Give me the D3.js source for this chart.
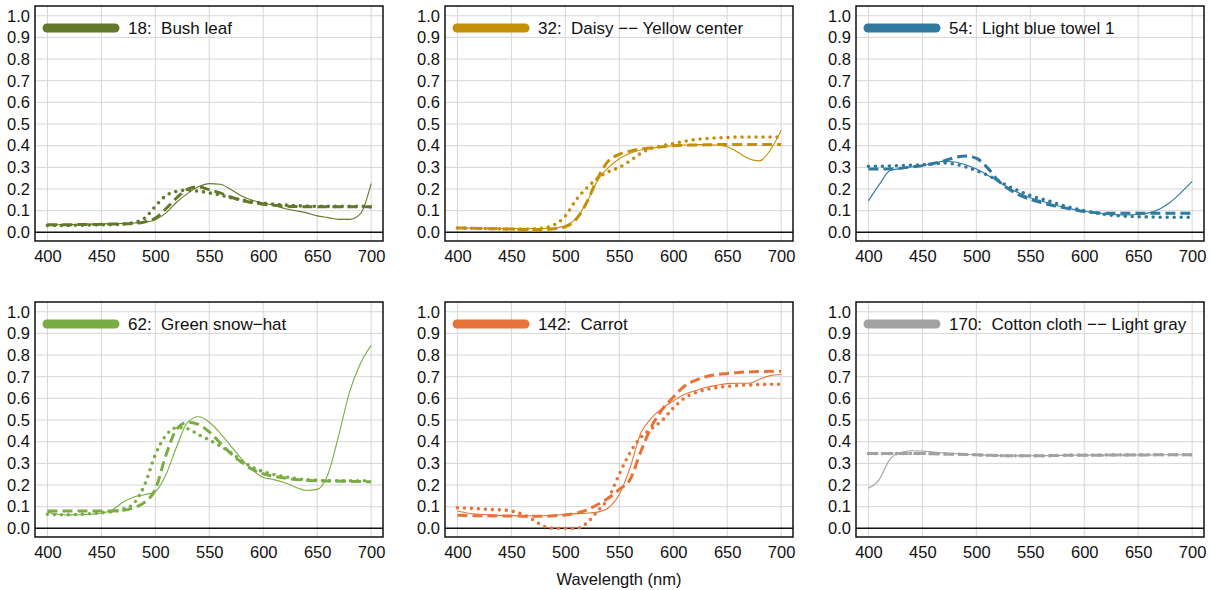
<!DOCTYPE html>
<html><head><meta charset="utf-8">
<script src="https://cdn.jsdelivr.net/npm/d3@7"></script>
<style>
body{margin:0;background:#fff;}
svg text{font-family:"Liberation Sans",Arial,sans-serif;fill:#111;}
</style></head>
<body>
<svg id="chart" width="1211" height="590"></svg>
<script>
const wavelengths = d3.range(400, 701, 10);
const xTicks = [400,450,500,550,600,650,700];
const yTicks = [0,0.1,0.2,0.3,0.4,0.5,0.6,0.7,0.8,0.9,1.0];
const panelTitles = ["18:  Bush leaf","32:  Daisy \u2212\u2212 Yellow center","54:  Light blue towel 1","62:  Green snow\u2212hat","142:  Carrot","170:  Cotton cloth \u2212\u2212 Light gray"];
const panelColors = ["#62792b","#c49008","#2f7a9e","#79ad44","#e8733a","#a2a2a2"];

const bushSolid  = [.035,.035,.036,.037,.038,.039,.040,.041,.043,.047,.058,.090,.140,.180,.210,.225,.222,.198,.168,.148,.135,.125,.110,.100,.090,.076,.068,.060,.060,.085,.225];
const bushDashed = [.035,.035,.035,.036,.036,.037,.038,.039,.041,.048,.065,.110,.160,.200,.210,.197,.182,.163,.147,.137,.130,.125,.121,.119,.118,.118,.118,.118,.118,.118,.118];
const bushDotted = [.032,.032,.032,.033,.034,.035,.036,.038,.045,.065,.120,.170,.190,.195,.190,.182,.172,.160,.150,.141,.135,.130,.126,.123,.121,.120,.120,.120,.120,.120,.117];

const daisySolid  = [.020,.020,.019,.019,.018,.018,.018,.018,.018,.020,.030,.065,.140,.240,.300,.340,.365,.380,.390,.395,.400,.403,.405,.405,.403,.395,.370,.340,.330,.380,.470];
const daisyDashed = [.020,.019,.018,.017,.016,.015,.013,.010,.012,.016,.025,.060,.140,.250,.330,.360,.375,.385,.390,.395,.400,.402,.403,.404,.405,.405,.405,.405,.405,.405,.405];
const daisyDotted = [.020,.019,.018,.017,.016,.015,.015,.016,.020,.035,.075,.150,.205,.250,.280,.300,.330,.365,.388,.400,.410,.420,.428,.433,.436,.438,.440,.440,.440,.440,.440];

const towelSolid  = [.145,.220,.285,.295,.302,.308,.318,.328,.325,.312,.292,.265,.235,.205,.180,.160,.145,.130,.117,.106,.097,.090,.085,.081,.080,.082,.090,.108,.140,.185,.235];
const towelDashed = [.292,.292,.293,.296,.302,.308,.318,.330,.345,.352,.342,.300,.240,.200,.172,.152,.137,.125,.115,.105,.096,.091,.088,.088,.088,.088,.088,.088,.088,.088,.088];
const towelDotted = [.305,.305,.306,.308,.310,.312,.315,.320,.315,.302,.285,.265,.240,.212,.190,.170,.155,.140,.125,.111,.100,.090,.082,.077,.074,.072,.071,.070,.070,.070,.070];

const hatSolid  = [.075,.065,.062,.063,.065,.070,.085,.120,.145,.155,.170,.250,.380,.490,.515,.490,.440,.380,.320,.270,.235,.225,.210,.190,.175,.180,.250,.430,.630,.760,.845];
const hatDashed = [.080,.080,.080,.080,.080,.080,.080,.083,.095,.120,.180,.340,.460,.490,.480,.445,.395,.345,.305,.272,.252,.240,.232,.226,.222,.220,.219,.218,.217,.216,.215];
const hatDotted = [.065,.063,.063,.065,.068,.072,.077,.088,.115,.200,.340,.430,.465,.460,.432,.408,.380,.350,.312,.282,.262,.248,.238,.230,.225,.222,.220,.220,.220,.220,.220];

const carrotSolid  = [.080,.070,.065,.062,.060,.059,.058,.058,.058,.060,.065,.068,.070,.075,.095,.156,.280,.440,.510,.555,.588,.618,.635,.650,.660,.668,.670,.670,.688,.705,.710];
const carrotDashed = [.060,.059,.058,.058,.057,.057,.056,.056,.056,.058,.062,.070,.085,.110,.140,.180,.225,.355,.470,.550,.605,.655,.682,.700,.710,.715,.720,.722,.724,.725,.725];
const carrotDotted = [.095,.093,.090,.087,.085,.080,.065,.040,.010,.000,.000,.000,.025,.080,.140,.250,.350,.420,.460,.500,.555,.600,.625,.640,.650,.655,.660,.662,.664,.665,.665];

const clothSolid  = [.185,.225,.320,.350,.358,.357,.352,.348,.345,.342,.340,.338,.336,.335,.335,.335,.335,.336,.337,.338,.338,.338,.338,.338,.338,.339,.339,.339,.340,.340,.340];
const clothDashed = [.345,.345,.345,.345,.345,.345,.344,.343,.342,.341,.340,.338,.336,.335,.335,.335,.335,.336,.337,.338,.338,.338,.338,.339,.339,.339,.339,.340,.340,.340,.340];
const clothDotted = [.345,.345,.345,.345,.346,.346,.345,.344,.342,.341,.339,.337,.336,.335,.335,.335,.335,.336,.337,.338,.338,.338,.339,.339,.339,.339,.340,.340,.340,.340,.340];

const panelSeries = [
  [bushSolid,bushDashed,bushDotted],
  [daisySolid,daisyDashed,daisyDotted],
  [towelSolid,towelDashed,towelDotted],
  [hatSolid,hatDashed,hatDotted],
  [carrotSolid,carrotDashed,carrotDotted],
  [clothSolid,clothDashed,clothDotted]
];

const svg = d3.select("#chart");
const colLeft = [35,445,856];
const rowTop = [6,302];
const W = 348, H = 235;
const styles = [
  {w:1.1, dash:null, cap:"butt"},
  {w:3, dash:"10,5", cap:"butt"},
  {w:3.6, dash:"0,7", cap:"round"}
];

panelSeries.forEach((series,i)=>{
  const L = colLeft[i%3], T = rowTop[Math.floor(i/3)];
  const g = svg.append("g").attr("transform",`translate(${L},${T})`);
  const x = d3.scaleLinear().domain([388.5,711]).range([0,W]);
  const y = d3.scaleLinear().domain([-0.04,1.045]).range([H,0]);
  g.selectAll(".vg").data(xTicks).join("line")
    .attr("x1",d=>x(d)).attr("x2",d=>x(d)).attr("y1",0).attr("y2",H)
    .attr("stroke","#d6d6d6").attr("stroke-width",1);
  g.selectAll(".hg").data(yTicks).join("line")
    .attr("x1",0).attr("x2",W).attr("y1",d=>y(d)).attr("y2",d=>y(d))
    .attr("stroke","#d6d6d6").attr("stroke-width",1);
  g.append("line").attr("x1",0).attr("x2",W).attr("y1",y(0)).attr("y2",y(0))
    .attr("stroke","#111").attr("stroke-width",1.5);
  const xa = g.append("g").attr("transform",`translate(0,${H})`)
    .call(d3.axisBottom(x).tickValues(xTicks).tickSize(0).tickPadding(9).tickFormat(d3.format("d")));
  xa.select(".domain").remove();
  xa.selectAll("text").attr("font-size",16.5).style("fill","#111");
  const ya = g.append("g")
    .call(d3.axisLeft(y).tickValues(yTicks).tickSize(0).tickPadding(5).tickFormat(d3.format(".1f")));
  ya.select(".domain").remove();
  ya.selectAll("text").attr("font-size",16.5).style("fill","#111");
  const clip = "clip"+i;
  g.append("clipPath").attr("id",clip).append("rect").attr("width",W).attr("height",H);
  const line = d3.line().x((d,k)=>x(wavelengths[k])).y(d=>y(d)).curve(d3.curveMonotoneX);
  series.forEach((s,k)=>{
    g.append("path").datum(s).attr("d",line).attr("clip-path",`url(#${clip})`)
      .attr("fill","none").attr("stroke",panelColors[i])
      .attr("stroke-width",styles[k].w)
      .attr("stroke-dasharray",styles[k].dash)
      .attr("stroke-linecap",styles[k].cap);
  });
  g.append("rect").attr("width",W).attr("height",H).attr("fill","none")
    .attr("stroke","#111").attr("stroke-width",1.5);
  g.append("line").attr("x1",12).attr("x2",80).attr("y1",22).attr("y2",22)
    .attr("stroke",panelColors[i]).attr("stroke-width",9).attr("stroke-linecap","round");
  g.append("text").attr("x",93).attr("y",28).attr("font-size",17)
    .style("white-space","pre").text(panelTitles[i]);
});

svg.append("text").attr("x",619).attr("y",585).attr("text-anchor","middle")
  .attr("font-size",16.5).text("Wavelength (nm)");
</script>
</body></html>
